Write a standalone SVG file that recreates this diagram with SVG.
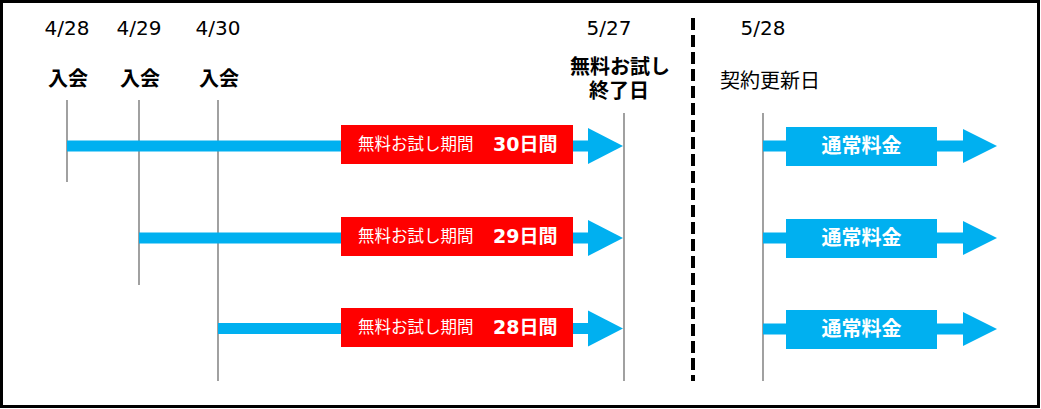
<svg xmlns="http://www.w3.org/2000/svg" width="1041" height="409" viewBox="0 0 1041 409">
<style>
.t{font-family:"DejaVu Sans","Noto Sans CJK JP",sans-serif;fill:#000}
.b{font-weight:bold}
.w{fill:#fff}
.vl{stroke:#6e6e6e;stroke-width:1.3;fill:none}
.bar{fill:#00B0F0}
.red{fill:#FF0000}
</style>
<rect x="1.5" y="1.5" width="1037" height="405" fill="#fff" stroke="#000" stroke-width="3"/>
<g id="labels">
<text class="t" x="67" y="35" font-size="20" text-anchor="middle">4/28</text>
<text class="t" x="139" y="35" font-size="20" text-anchor="middle">4/29</text>
<text class="t" x="218" y="35" font-size="20" text-anchor="middle">4/30</text>
<text class="t" x="609" y="35" font-size="20" text-anchor="middle">5/27</text>
<text class="t" x="763" y="35" font-size="20" text-anchor="middle">5/28</text>
<text class="t b" x="68" y="86" font-size="20" text-anchor="middle">入会</text>
<text class="t b" x="140" y="86" font-size="20" text-anchor="middle">入会</text>
<text class="t b" x="219" y="86" font-size="20" text-anchor="middle">入会</text>
<text class="t b" x="620" y="74" font-size="20" text-anchor="middle">無料お試し</text>
<text class="t b" x="619" y="98" font-size="20" text-anchor="middle">終了日</text>
<text class="t" x="770" y="88" font-size="20" text-anchor="middle">契約更新日</text>
</g>
<g id="connectors">
<line class="vl" x1="67" y1="100" x2="67" y2="182"/>
<line class="vl" x1="139" y1="100" x2="139" y2="285"/>
<line class="vl" x1="218" y1="100" x2="218" y2="381"/>
<line class="vl" x1="624" y1="113" x2="624" y2="381"/>
<line class="vl" x1="763" y1="113" x2="763" y2="381"/>
<line x1="693" y1="18" x2="693" y2="381" stroke="#000" stroke-width="4" stroke-dasharray="12,5"/>
</g>
<g id="row1">
<rect class="bar" x="67" y="140.5" width="522" height="11"/>
<polygon class="bar" points="588,128 623,146 588,164"/>
<rect class="red" x="341" y="125" width="232" height="39"/>
<text class="t w" x="358" y="150" font-size="16.5">無料お試し期間</text>
<text class="t w b" x="493" y="151" font-size="19">30日間</text>
</g>
<g id="row2">
<rect class="bar" x="139" y="232.5" width="450" height="11"/>
<polygon class="bar" points="588,220 623,238 588,256"/>
<rect class="red" x="341" y="217" width="232" height="39"/>
<text class="t w" x="358" y="242" font-size="16.5">無料お試し期間</text>
<text class="t w b" x="493" y="243" font-size="19">29日間</text>
</g>
<g id="row3">
<rect class="bar" x="218" y="323" width="371" height="11"/>
<polygon class="bar" points="588,310.5 623,328.5 588,346.5"/>
<rect class="red" x="341" y="308" width="232" height="39"/>
<text class="t w" x="358" y="333" font-size="16.5">無料お試し期間</text>
<text class="t w b" x="493" y="334" font-size="19">28日間</text>
</g>
<g id="fee1">
<rect class="bar" x="763" y="140.5" width="201" height="11"/>
<polygon class="bar" points="963,129 997,146 963,163"/>
<rect class="bar" x="786" y="127" width="151" height="39"/>
<text class="t w b" x="861.5" y="153" font-size="20" text-anchor="middle">通常料金</text>
</g>
<g id="fee2">
<rect class="bar" x="763" y="232.5" width="201" height="11"/>
<polygon class="bar" points="963,221 997,238 963,255"/>
<rect class="bar" x="786" y="219" width="151" height="39"/>
<text class="t w b" x="861.5" y="245" font-size="20" text-anchor="middle">通常料金</text>
</g>
<g id="fee3">
<rect class="bar" x="763" y="323.5" width="201" height="11"/>
<polygon class="bar" points="963,312 997,329 963,346"/>
<rect class="bar" x="786" y="310" width="151" height="39"/>
<text class="t w b" x="861.5" y="336" font-size="20" text-anchor="middle">通常料金</text>
</g>
</svg>
